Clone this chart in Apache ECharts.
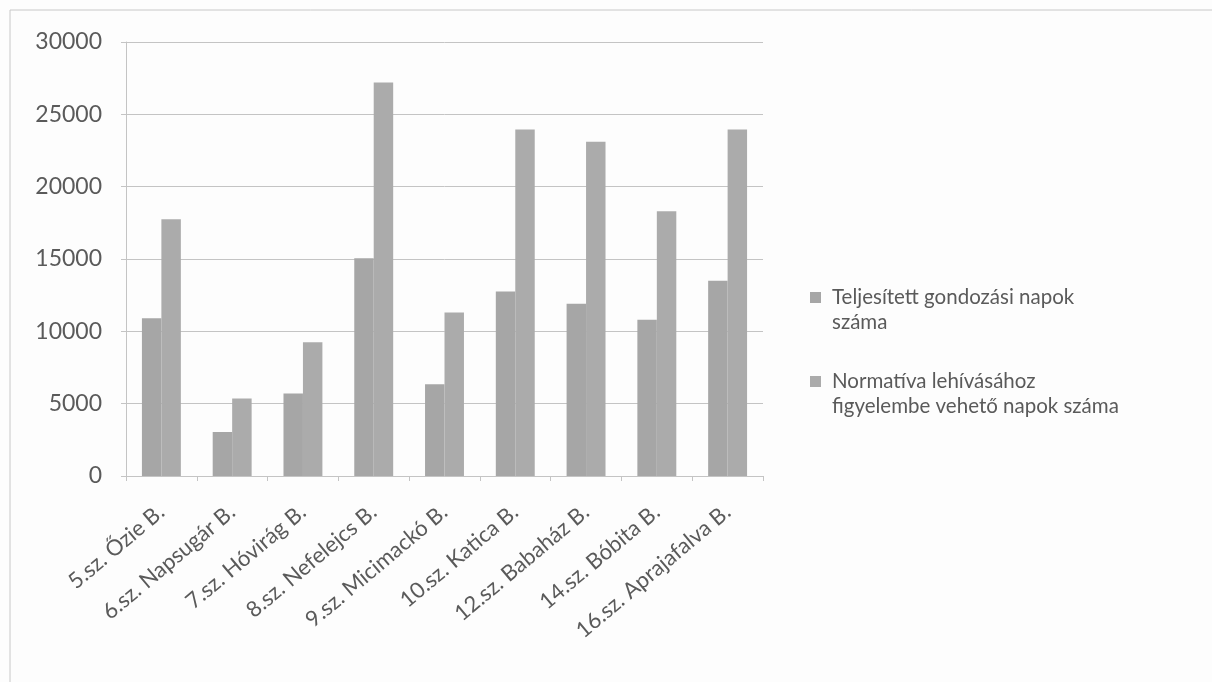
<!DOCTYPE html>
<html>
<head>
<meta charset="utf-8">
<script src="https://cdn.jsdelivr.net/npm/echarts@6/dist/echarts.min.js"></script>
<style>
html,body{margin:0;padding:0;background:#fdfdfd;}
#chart{width:1212px;height:682px;}
</style>
</head>
<body>
<div id="chart"></div>
<script>
const categories = ['5.sz. Őzie B.', '6.sz. Napsugár B.', '7.sz. Hóvirág B.', '8.sz. Nefelejcs B.', '9.sz. Micimackó B.', '10.sz. Katica B.', '12.sz. Babaház B.', '14.sz. Bóbita B.', '16.sz. Aprajafalva B.'];
const teljesitett = [10900, 3050, 5700, 15050, 6350, 12750, 11900, 10800, 13500];
const normativa = [17750, 5350, 9250, 27200, 11300, 23950, 23100, 18300, 23950];
const seriesNames = ['Teljesített gondozási napok\nszáma', 'Normatíva lehívásához\nfigyelembe vehető napok száma'];
const yTicks = [0, 5000, 10000, 15000, 20000, 25000, 30000];

const chart = echarts.init(document.getElementById('chart'));
const font = 'Lato';
chart.setOption({
  backgroundColor: '#fdfdfd',
  animation: false,
  textStyle: { fontFamily: font },
  graphic: [
    { type: 'line', shape: { x1: 10, y1: 10, x2: 10, y2: 682 }, style: { stroke: '#c8c8c8', lineWidth: 1 } },
    { type: 'line', shape: { x1: 10, y1: 10, x2: 1212, y2: 10 }, style: { stroke: '#c8c8c8', lineWidth: 1 } }
  ],
  legend: {
    orient: 'vertical',
    left: 805,
    top: 255,
    itemWidth: 17,
    itemHeight: 11,
    itemGap: 9,
    icon: 'path://M0,0h11v11h-11zM17,0h0.01v0.01h-0.01z',
    data: seriesNames,
    formatter: name => '\n' + name,
    textStyle: { fontFamily: font, fontSize: 20.5, color: '#5a5a5a', lineHeight: 25 }
  },
  grid: { left: 126, right: 449, top: 42, bottom: 206, containLabel: false },
  xAxis: {
    type: 'category',
    data: categories,
    axisLine: { lineStyle: { color: '#c4c4c4' } },
    axisTick: { show: true, length: 5, lineStyle: { color: '#c4c4c4' } },
    axisLabel: { rotate: 40, margin: 33, fontSize: 22, color: '#5a5a5a', fontFamily: font, interval: 0 }
  },
  yAxis: {
    type: 'value',
    min: 0, max: 30000, interval: 5000,
    axisLine: { show: true, lineStyle: { color: '#c4c4c4' } },
    axisTick: { show: true, length: 5, lineStyle: { color: '#c4c4c4' } },
    splitLine: { lineStyle: { color: '#c4c4c4' } },
    axisLabel: { fontSize: 23, color: '#5a5a5a', margin: 24, fontFamily: font,
      formatter: v => yTicks.includes(v) ? String(v) : '' }
  },
  series: [
    { name: seriesNames[0], type: 'bar', data: teljesitett, itemStyle: { color: '#a6a6a6' }, barGap: '0%', barCategoryGap: '45%' },
    { name: seriesNames[1], type: 'bar', data: normativa, itemStyle: { color: '#ababab' }, barGap: '0%', barCategoryGap: '45%' }
  ]
});
</script>
</body>
</html>
